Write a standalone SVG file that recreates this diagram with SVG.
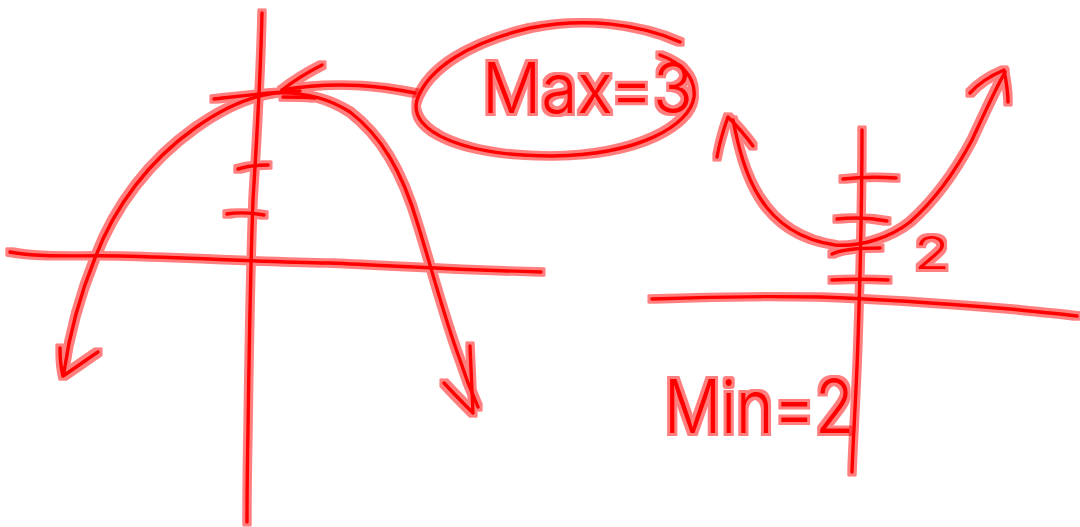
<svg xmlns="http://www.w3.org/2000/svg" width="1080" height="527" viewBox="0 0 1080 527">
  <defs>
    <!-- marker-pen look: solid red core with a soft pale halo around every stroke -->
    <filter id="pen" x="-5%" y="-5%" width="110%" height="110%">
      <feMorphology in="SourceAlpha" operator="dilate" radius="2.6" result="wide"/>
      <feFlood flood-color="#ff0000" flood-opacity="0.5"/>
      <feComposite in2="wide" operator="in" result="halo"/>
      <feMerge>
        <feMergeNode in="halo"/>
        <feMergeNode in="SourceGraphic"/>
      </feMerge>
    </filter>
    <style>
      .ink { fill: none; stroke: #ff0000; stroke-width: 3.4; stroke-linecap: round; stroke-linejoin: round; }
      .hand { fill: #ff0000; font-family: Inter, "Liberation Sans", Arial, sans-serif; font-weight: 300; }
    </style>
  </defs>

  <rect width="1080" height="527" fill="#ffffff"/>

  <!-- left sketch: downward parabola with its maximum -->
  <g id="left-graph" filter="url(#pen)">
    <g class="ink">
      <!-- axes -->
      <path d="M262,13 C261,60 258,120 253,200 C250,280 249,360 248,430 C247,480 247,505 247,522"/>
      <path d="M10,252 C40,258 80,255 120,256 C200,258 260,262 330,263 C400,266 460,270 541,272"/>
      <!-- ticks on y axis -->
      <path d="M238,169 C248,166 258,165 268,165"/>
      <path d="M227,214 C238,212 252,213 264,215"/>
      <!-- parabola -->
      <path d="M64,372 C70,330 82,290 95,258 C115,205 150,160 195,128 C220,110 245,97 275,93 C300,92 325,96 350,112 C380,135 402,170 418,225 C432,270 445,320 460,360 C468,385 475,400 478,407"/>
      <!-- arrowheads -->
      <path d="M60,348 C60,360 61,368 63,376 C75,368 86,360 98,352"/>
      <path d="M444,383 C455,395 465,405 473,413 C472,395 471,370 470,346"/>
      <!-- flat stroke marking the top -->
      <path d="M214,99 C240,96 262,93 300,91"/>
      <path d="M283,97 C295,97 305,97 315,98"/>
      <!-- pointer from the label to the top -->
      <path d="M415,93 C385,87 340,80 282,90"/>
      <path d="M282,90 C295,80 308,72 322,65"/>
    </g>
  </g>

  <!-- circled label of the maximum -->
  <g id="max-label" filter="url(#pen)">
    <path class="ink" d="M680,42 C640,24 585,17 530,28 C470,42 428,68 417,100 C408,132 465,156 552,156 C640,155 690,125 694,97 C696,78 682,63 660,55"/>
    <text class="hand" x="482" y="113" font-size="70" textLength="211" lengthAdjust="spacingAndGlyphs">Max=3</text>
  </g>

  <!-- right sketch: upward parabola with its minimum -->
  <g id="right-graph" filter="url(#pen)">
    <g class="ink">
      <!-- axes -->
      <path d="M652,299 C700,297 760,296 820,297 C880,299 950,304 1010,309 C1040,312 1060,314 1077,316"/>
      <path d="M862,130 C862,200 860,280 858,340 C856,400 853,440 852,472"/>
      <!-- ticks -->
      <path d="M843,179 C860,177 880,177 896,178"/>
      <path d="M837,219 C855,217 872,218 887,221"/>
      <path d="M832,254 C840,250 860,248 880,248"/>
      <path d="M832,280 C850,279 870,279 888,280"/>
      <!-- parabola -->
      <path d="M733,120 C738,145 745,175 760,198 C775,222 800,240 835,245 C860,247 890,238 910,222 C935,200 955,172 972,140 C985,112 995,90 1005,72"/>
      <!-- arrowheads -->
      <path d="M717,157 C720,140 724,128 728,117 C736,125 745,135 753,146"/>
      <path d="M970,93 C978,84 990,76 1004,70 C1006,80 1008,92 1008,102"/>
    </g>
    <text class="hand" x="914" y="269" font-size="45" textLength="36" lengthAdjust="spacingAndGlyphs">2</text>
  </g>

  <!-- label of the minimum -->
  <g id="min-label" filter="url(#pen)">
    <text class="hand" x="664" y="433" font-size="74" textLength="190" lengthAdjust="spacingAndGlyphs">Min=2</text>
  </g>
</svg>
